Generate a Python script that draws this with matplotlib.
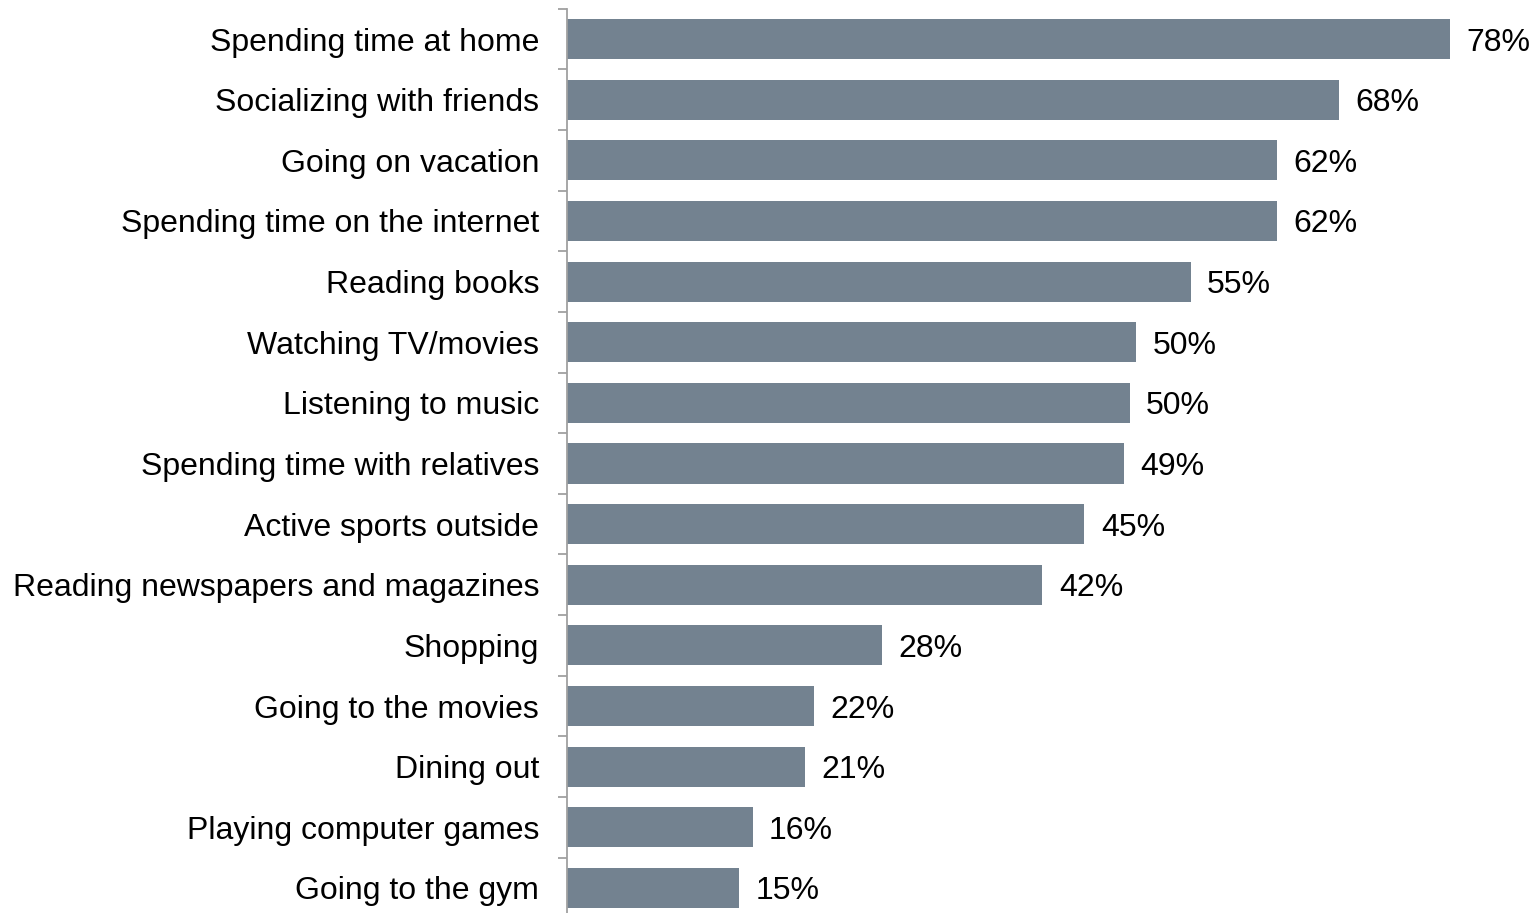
import matplotlib
matplotlib.use("Agg")
import matplotlib.pyplot as plt
import numpy as np

categories = ["Spending time at home", "Socializing with friends", "Going on vacation",
              "Spending time on the internet", "Reading books", "Watching TV/movies",
              "Listening to music", "Spending time with relatives", "Active sports outside",
              "Reading newspapers and magazines", "Shopping", "Going to the movies",
              "Dining out", "Playing computer games", "Going to the gym"]
values = [78.0, 68.2, 62.7, 62.7, 55.1, 50.3, 49.7, 49.2, 45.7, 42.0, 27.8, 21.8, 21.0, 16.4, 15.2]
labels = ["78%", "68%", "62%", "62%", "55%", "50%", "50%", "49%", "45%", "42%",
          "28%", "22%", "21%", "16%", "15%"]

plt.rcParams['font.family'] = ['Liberation Sans', 'DejaVu Sans']
fig = plt.figure(figsize=(15.35, 9.13), dpi=100)
ax = fig.add_axes([567/1535, -5.3/913, 1 - 567/1535, (913 - 8.7 + 5.3)/913])

n = len(categories)
y = np.arange(n)
ax.barh(y, values, height=0.66, color="#738290")
for yi, v, lab in zip(y, values, labels):
    ax.text(v + 1.45, yi, lab, va="center_baseline", ha="left", fontsize=23)

ax.set_ylim(n - 0.5, -0.5)
ax.set_xlim(0, (1535 - 567) / ((1450 - 567) / 78.0))
ax.set_xticks([])
ax.set_yticks(np.arange(n + 1) - 0.5)
ax.set_yticklabels([])
ax.set_yticks(y, minor=True)
ax.set_yticklabels(categories, minor=True, fontsize=23, va="center_baseline")
ax.tick_params(axis="y", which="major", length=6.5, width=1.3, color="#a0a0a0", direction="out")
ax.tick_params(axis="y", which="minor", length=0, pad=20)
for s in ["top", "right", "bottom"]:
    ax.spines[s].set_visible(False)
ax.spines["left"].set_color("#a0a0a0")
ax.spines["left"].set_linewidth(1.3)

fig.savefig("out.png", dpi=100)
